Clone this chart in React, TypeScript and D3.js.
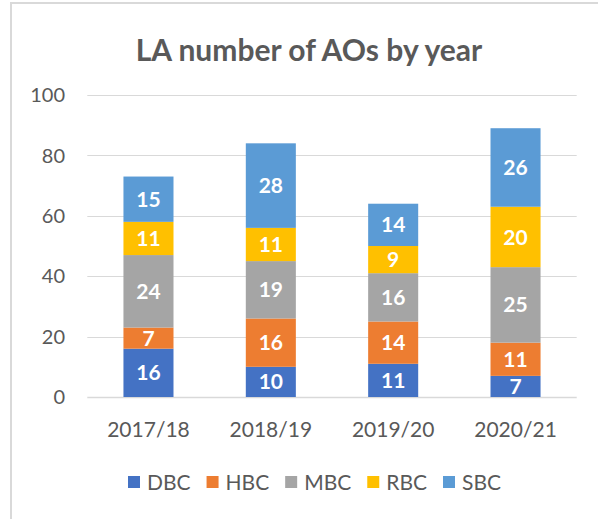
import React, { useEffect, useRef } from "react";
import * as d3 from "d3";

const categories = ["2017/18", "2018/19", "2019/20", "2020/21"];
const seriesNames = ["DBC", "HBC", "MBC", "RBC", "SBC"];
const DBC = [16, 10, 11, 7];
const HBC = [7, 16, 14, 11];
const MBC = [24, 19, 16, 25];
const RBC = [11, 11, 9, 20];
const SBC = [15, 28, 14, 26];
const yTicks = [0, 20, 40, 60, 80, 100];
const colors = ["#4472C4", "#ED7D31", "#A5A5A5", "#FFC000", "#5B9BD5"];
const title = "LA number of AOs by year";

const W = 598;
const H = 519;
const FONT = "Lato, 'Open Sans', sans-serif";

export default function App() {
  const ref = useRef<SVGSVGElement>(null);
  useEffect(() => {
    const svg = d3.select(ref.current);
    svg.selectAll("*").remove();
    const values = [DBC, HBC, MBC, RBC, SBC];
    const rows = categories.map((c, i) => {
      const r: any = { cat: c };
      seriesNames.forEach((s, j) => (r[s] = values[j][i]));
      return r;
    });
    const stacked = d3.stack().keys(seriesNames)(rows);

    const left = 87.3, right = 576.7, top = 95, bottom = 397;
    const x = d3.scaleBand().domain(categories).range([left, right]).paddingInner(0.591).paddingOuter(0.2955);
    const y = d3.scaleLinear().domain([0, 100]).range([bottom, top]);

    // border
    svg.append("path").attr("d", `M11,${H} L11,3 L${W},3`).attr("fill", "none").attr("stroke", "#d9d9d9").attr("stroke-width", 2);

    // title
    svg.append("text").attr("x", 309).attr("y", 61).attr("text-anchor", "middle")
      .attr("font-family", FONT).attr("font-weight", "bold").attr("font-size", 30).attr("fill", "#595959").text(title);

    // gridlines
    svg.append("g").selectAll("line").data(yTicks).join("line")
      .attr("x1", left).attr("x2", right)
      .attr("y1", (d) => Math.round(y(d)) + 0.5).attr("y2", (d) => Math.round(y(d)) + 0.5)
      .attr("stroke", "#d9d9d9").attr("stroke-width", (d) => (d === 0 ? 1.5 : 1));

    // y tick labels
    svg.append("g").selectAll("text").data(yTicks).join("text")
      .attr("x", 65).attr("y", (d) => y(d)).attr("dy", "0.36em").attr("text-anchor", "end")
      .attr("font-family", FONT).attr("font-size", 20).attr("fill", "#595959").text((d) => d);

    // bars
    const g = svg.append("g");
    stacked.forEach((layer, j) => {
      g.append("g").selectAll("rect").data(layer).join("rect")
        .attr("x", (d: any) => x(d.data.cat)!).attr("width", x.bandwidth())
        .attr("y", (d) => y(d[1])).attr("height", (d) => y(d[0]) - y(d[1]))
        .attr("fill", colors[j]);
      g.append("g").selectAll("text").data(layer).join("text")
        .attr("x", (d: any) => x(d.data.cat)! + x.bandwidth() / 2)
        .attr("y", (d) => (y(d[0]) + y(d[1])) / 2).attr("dy", "0.36em")
        .attr("text-anchor", "middle").attr("font-family", FONT).attr("font-weight", "bold")
        .attr("font-size", 21).attr("fill", "#ffffff").text((d) => d[1] - d[0]);
    });

    // x labels
    svg.append("g").selectAll("text").data(categories).join("text")
      .attr("x", (d) => x(d)! + x.bandwidth() / 2).attr("y", 437).attr("text-anchor", "middle")
      .attr("font-family", FONT).attr("font-size", 21).attr("fill", "#595959").text((d) => d);

    // legend
    const lg = svg.append("g");
    const items = seriesNames.map((s, j) => {
      const it = lg.append("g");
      it.append("rect").attr("x", 0).attr("y", -6).attr("width", 12).attr("height", 12).attr("fill", colors[j]);
      const t = it.append("text").attr("x", 19).attr("y", 0).attr("dy", "0.36em")
        .attr("font-family", FONT).attr("font-size", 21).attr("fill", "#595959").text(s);
      const w = (t.node() as SVGTextElement).getComputedTextLength();
      return { it, w: 19 + w };
    });
    const legendStart = 128, legendEnd = 501;
    const gap = Math.max(8, (legendEnd - legendStart - d3.sum(items, (d) => d.w)) / (items.length - 1));
    const total = d3.sum(items, (d) => d.w) + gap * (items.length - 1);
    let cx = (legendStart + legendEnd) / 2 - total / 2;
    items.forEach((d) => {
      d.it.attr("transform", `translate(${cx},482)`);
      cx += d.w + gap;
    });
  }, []);
  return <svg ref={ref} width={W} height={H} style={{ display: "block", position: "absolute", left: 0, top: 0 }} />;
}
